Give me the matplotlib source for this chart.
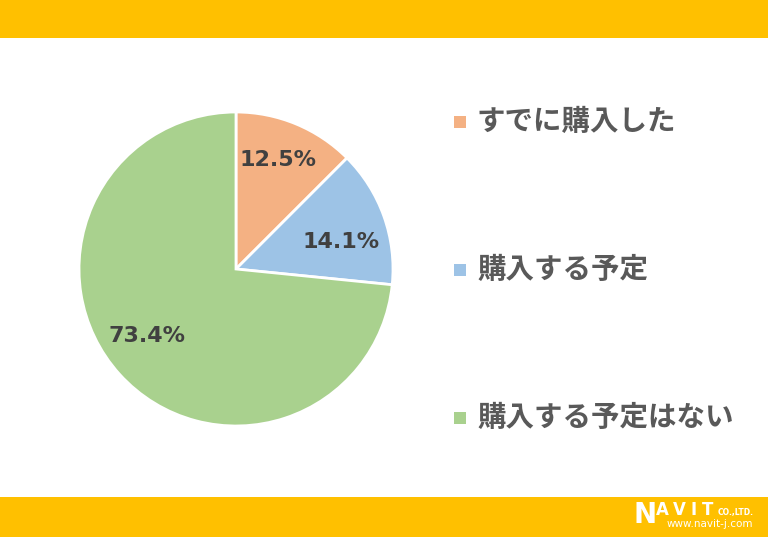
import matplotlib.pyplot as plt
from matplotlib.patches import Rectangle

plt.rcParams['font.family'] = ['Noto Sans CJK JP', 'DejaVu Sans']

# data
categories = ["すでに購入した", "購入する予定", "購入する予定はない"]
shares = [12.5, 14.1, 73.4]
colors = ["#F4B183", "#9DC3E6", "#A9D18E"]

W, H = 768, 537
fig = plt.figure(figsize=(W / 100, H / 100), dpi=100)
fig.patch.set_facecolor("white")

# yellow bands top and bottom
band = "#FFC000"
fig.patches.append(Rectangle((0, 1 - 38 / H), 1, 38 / H, transform=fig.transFigure,
                             facecolor=band, edgecolor="none", zorder=0))
fig.patches.append(Rectangle((0, 0), 1, 40 / H, transform=fig.transFigure,
                             facecolor=band, edgecolor="none", zorder=0))

# pie
cx, cy, r = 236, 269, 157
ax = fig.add_axes([(cx - r) / W, (H - cy - r) / H, 2 * r / W, 2 * r / H])
wedges, texts, autotexts = ax.pie(
    shares, colors=colors, startangle=90, counterclock=False,
    autopct="%.1f%%", pctdistance=0.72,
    wedgeprops=dict(edgecolor="white", linewidth=2, clip_on=False),
    textprops=dict(color="#404040", fontsize=16, fontweight="bold",
                   family=["DejaVu Sans"]),
)
# nudge the labels to where the reference puts them (pixel centres)
label_px = [(278, 160), (341, 242), (147, 336)]
for t, (px, py) in zip(autotexts, label_px):
    t.set_position(((px - cx) / r, (cy - py) / r))
ax.set_xlim(-1, 1)
ax.set_ylim(-1, 1)
ax.set_aspect("equal")
ax.axis("off")

# legend
legend_y = [122, 270, 418]
for cat, col, y in zip(categories, colors, legend_y):
    fig.patches.append(Rectangle((454 / W, 1 - (y + 6) / H), 12 / W, 12 / H,
                                 transform=fig.transFigure, facecolor=col,
                                 edgecolor="none"))
    fig.text(477 / W, 1 - y / H, cat, fontsize=20.5, fontweight="semibold",
             color="#595959", va="center", ha="left")

# logo
logo_font = ["DejaVu Sans"]
fig.text(634 / W, 1 - 515 / H, "N", fontsize=20, fontweight="bold",
         color="white", va="center", ha="left", family=logo_font)
for ch, x in zip("AVIT", [656, 673, 690, 702]):
    fig.text(x / W, 1 - 510 / H, ch, fontsize=12, fontweight="bold",
             color="white", va="center", ha="left", family=logo_font)
fig.text(718 / W, 1 - 512 / H, "CO.,LTD.", fontsize=5.5, fontweight="bold",
         color="white", va="center", ha="left", family=logo_font)
fig.text(667 / W, 1 - 524 / H, "www.navit-j.com", fontsize=7.5,
         color="white", va="center", ha="left", family=logo_font)

fig.savefig("out.png", dpi=100)
